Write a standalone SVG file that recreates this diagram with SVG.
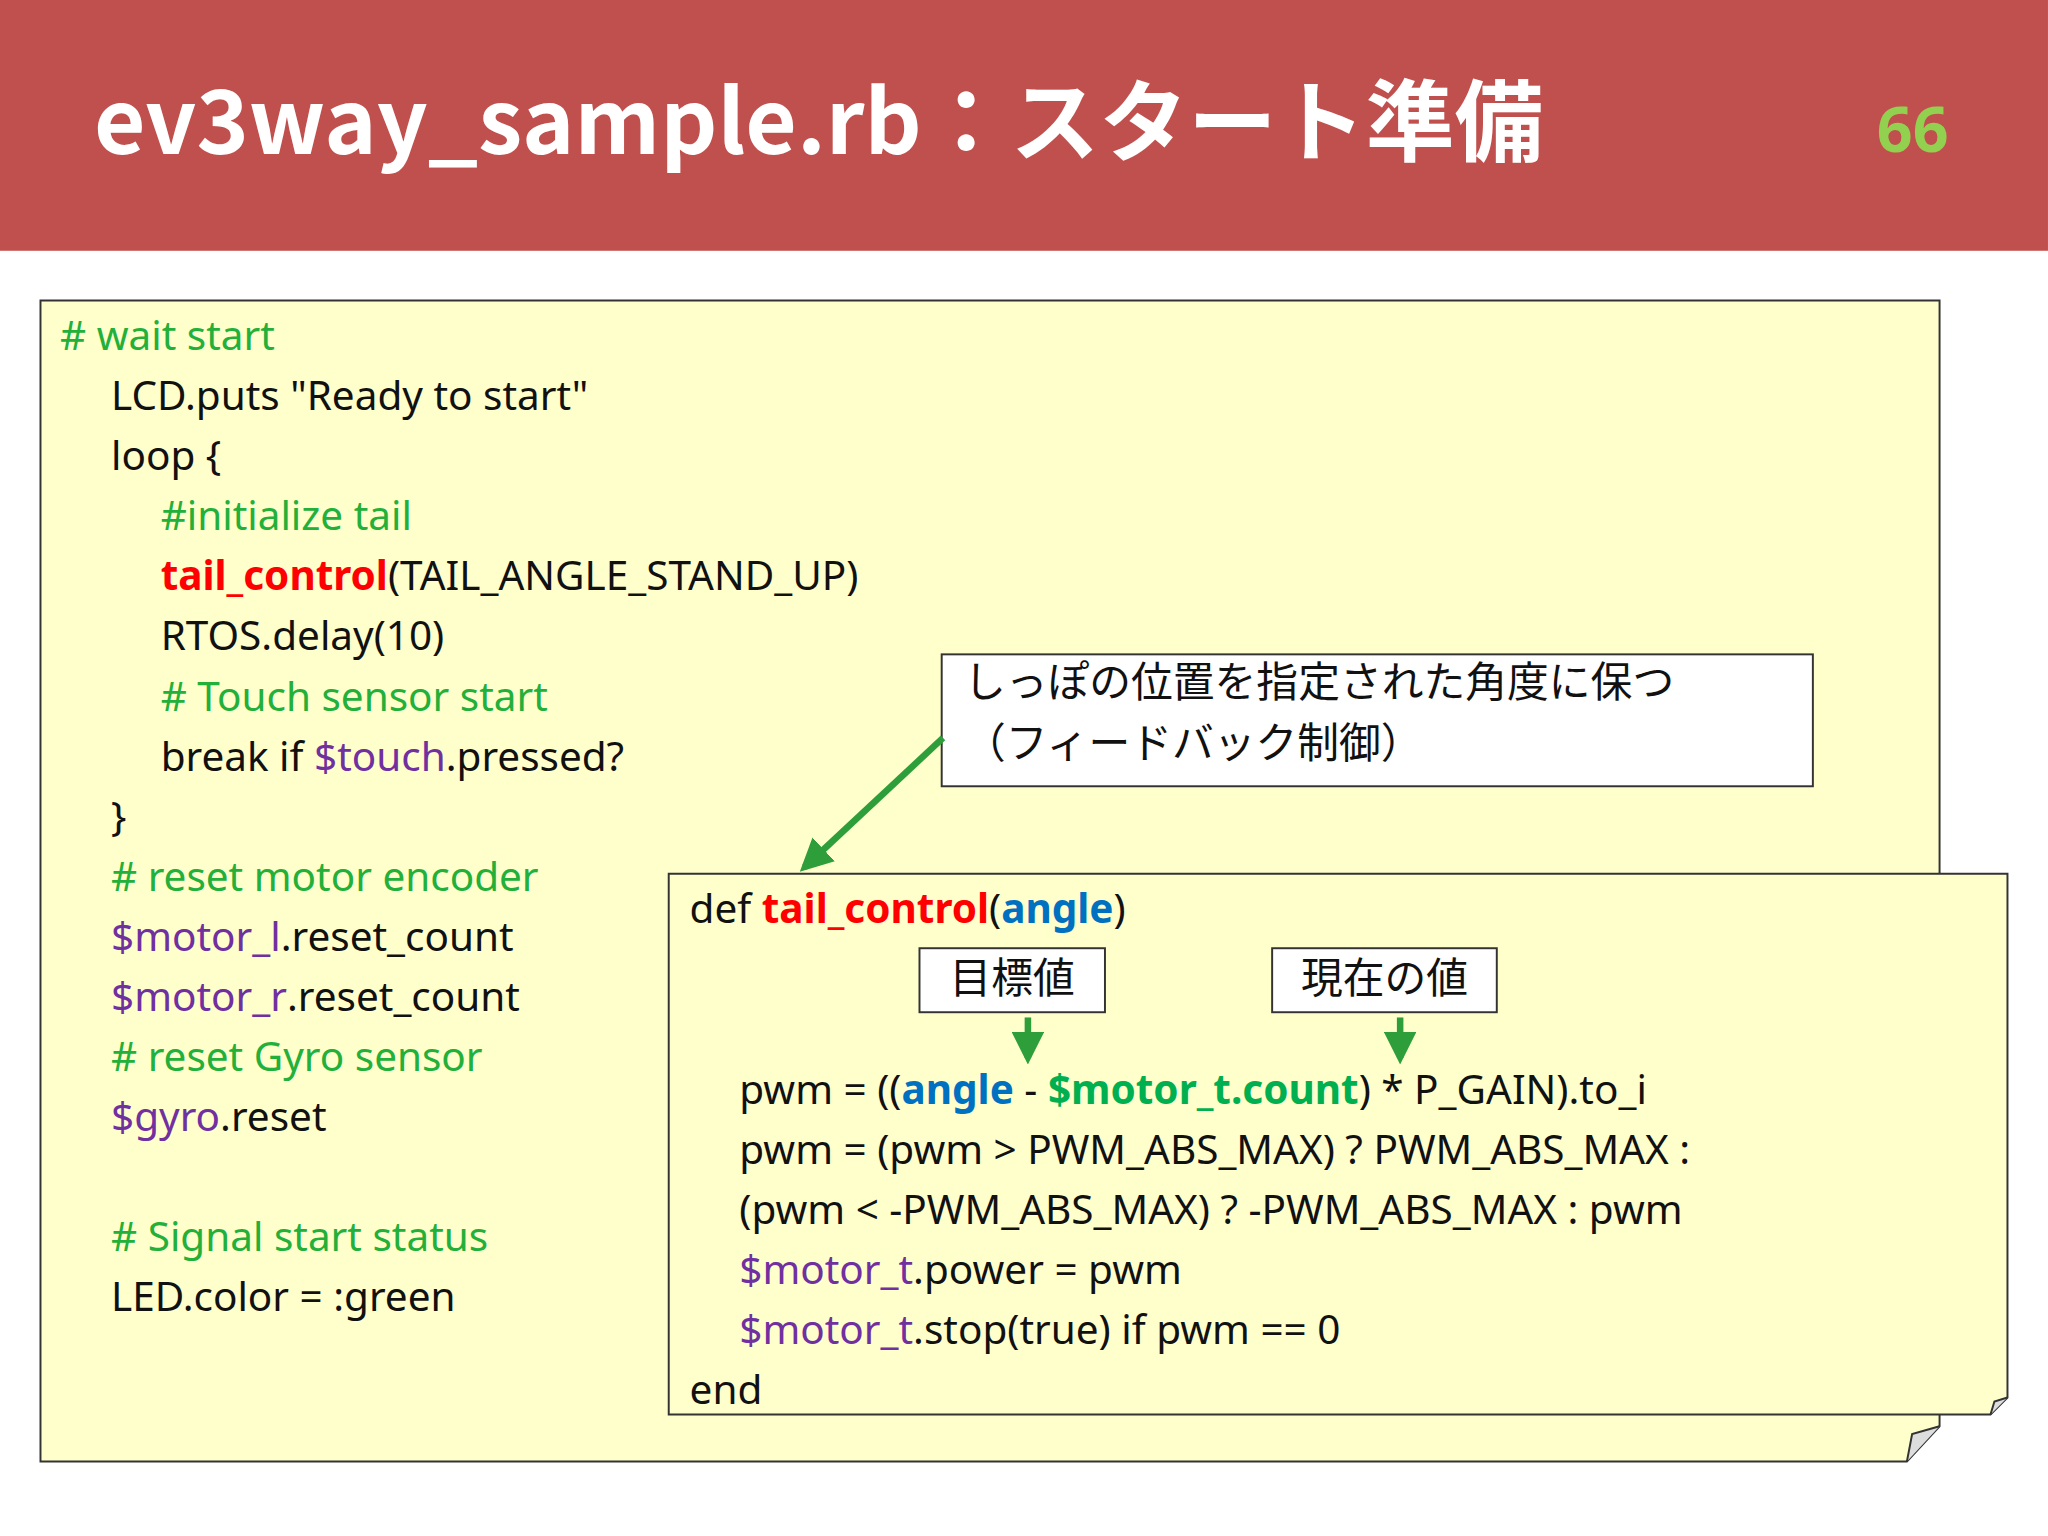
<svg xmlns="http://www.w3.org/2000/svg" width="2048" height="1536" viewBox="0 0 2048 1536">
<defs>
<style>
.c{font-family:"Noto Sans","Open Sans","Liberation Sans",sans-serif;font-size:31px;fill:#111}
.j{font-family:"Noto Sans CJK JP","Noto Sans",sans-serif;font-size:32px;fill:#111}
.g{fill:#22B03A}.p{fill:#7030A0}.r{fill:#FF0000;font-weight:bold}.b{fill:#0070C0;font-weight:bold}.gb{fill:#00B050;font-weight:bold}
.box{fill:#FFFFCC;stroke:#333;stroke-width:1.5}
</style>
<marker id="ah" viewBox="0 0 10 10" refX="8" refY="5" markerWidth="5" markerHeight="5" orient="auto"><path d="M0,0L10,5L0,10z" fill="#2E9E3A"/></marker>
</defs>
<rect width="2048" height="1536" fill="#fff"/>
<g transform="scale(1.3061)">
<g id="header">
<rect x="0" y="0" width="1568" height="192" fill="#C0504D"/>
<text x="72" y="118" font-family="Noto Sans CJK JP,Noto Sans,sans-serif" font-weight="bold" font-size="68" fill="#fff">ev3way_sample.rb：スタート準備</text>
<text x="1437" y="116" font-family="Noto Sans,sans-serif" font-weight="bold" font-size="48" fill="#92D050">66</text>
</g>
<g id="main">
<path class="box" d="M31,230H1485V1092L1460,1119H31Z"/>
<path d="M1460,1119L1464,1098L1485,1092" fill="#ddd" stroke="#333" stroke-width="1.5"/>
<text class="c g" x="46" y="268"># wait start</text>
<text class="c" x="85" y="314">LCD.puts "Ready to start"</text>
<text class="c" x="85" y="360">loop {</text>
<text class="c g" x="123" y="406">#initialize tail</text>
<text class="c" x="123" y="452"><tspan class="r">tail_control</tspan>(TAIL_ANGLE_STAND_UP)</text>
<text class="c" x="123" y="498">RTOS.delay(10)</text>
<text class="c g" x="123" y="544"># Touch sensor start</text>
<text class="c" x="123" y="590">break if <tspan class="p">$touch</tspan>.pressed?</text>
<text class="c" x="85" y="636">}</text>
<text class="c g" x="85" y="682"># reset motor encoder</text>
<text class="c" x="85" y="728"><tspan class="p">$motor_l</tspan>.reset_count</text>
<text class="c" x="85" y="774"><tspan class="p">$motor_r</tspan>.reset_count</text>
<text class="c g" x="85" y="820"># reset Gyro sensor</text>
<text class="c" x="85" y="866"><tspan class="p">$gyro</tspan>.reset</text>
<text class="c g" x="85" y="958"># Signal start status</text>
<text class="c" x="85" y="1004">LED.color = :green</text>
</g>
<g id="callout">
<rect x="721" y="501" width="667" height="101" fill="#fff" stroke="#333" stroke-width="1.5"/>
<text class="j" x="738" y="534">しっぽの位置を指定された角度に保つ</text>
<text class="j" x="738" y="580">（フィードバック制御）</text>
</g>
<g id="func">
<path class="box" d="M512,669H1537V1070L1524,1083H512Z"/>
<path d="M1524,1083L1527,1073L1537,1070" fill="#ddd" stroke="#333" stroke-width="1.5"/>
<text class="c" x="528" y="707">def <tspan class="r">tail_control</tspan>(<tspan class="b">angle</tspan>)</text>
<text class="c" x="566" y="845">pwm = ((<tspan class="b">angle</tspan> - <tspan class="gb">$motor_t.count</tspan>) * P_GAIN).to_i</text>
<text class="c" x="566" y="891">pwm = (pwm &gt; PWM_ABS_MAX)  ? PWM_ABS_MAX :</text>
<text class="c" x="566" y="937">(pwm &lt; -PWM_ABS_MAX) ? -PWM_ABS_MAX : pwm</text>
<text class="c" x="566" y="983"><tspan class="p">$motor_t</tspan>.power = pwm</text>
<text class="c" x="566" y="1029"><tspan class="p">$motor_t</tspan>.stop(true) if pwm == 0</text>
<text class="c" x="528" y="1075">end</text>
</g>
<g id="lbl1"><rect x="704" y="726" width="142" height="49" fill="#fff" stroke="#333" stroke-width="1.5"/><text class="j" x="775" y="760" text-anchor="middle">目標値</text></g>
<g id="lbl2"><rect x="974" y="726" width="172" height="49" fill="#fff" stroke="#333" stroke-width="1.5"/><text class="j" x="1060" y="760" text-anchor="middle">現在の値</text></g>
<g id="connectors" stroke="#2E9E3A" stroke-width="5" fill="none">
<line x1="722" y1="565" x2="616" y2="664" marker-end="url(#ah)"/>
<line x1="787" y1="779" x2="787" y2="810" marker-end="url(#ah)"/>
<line x1="1072" y1="779" x2="1072" y2="810" marker-end="url(#ah)"/>
</g>
</g>
</svg>
